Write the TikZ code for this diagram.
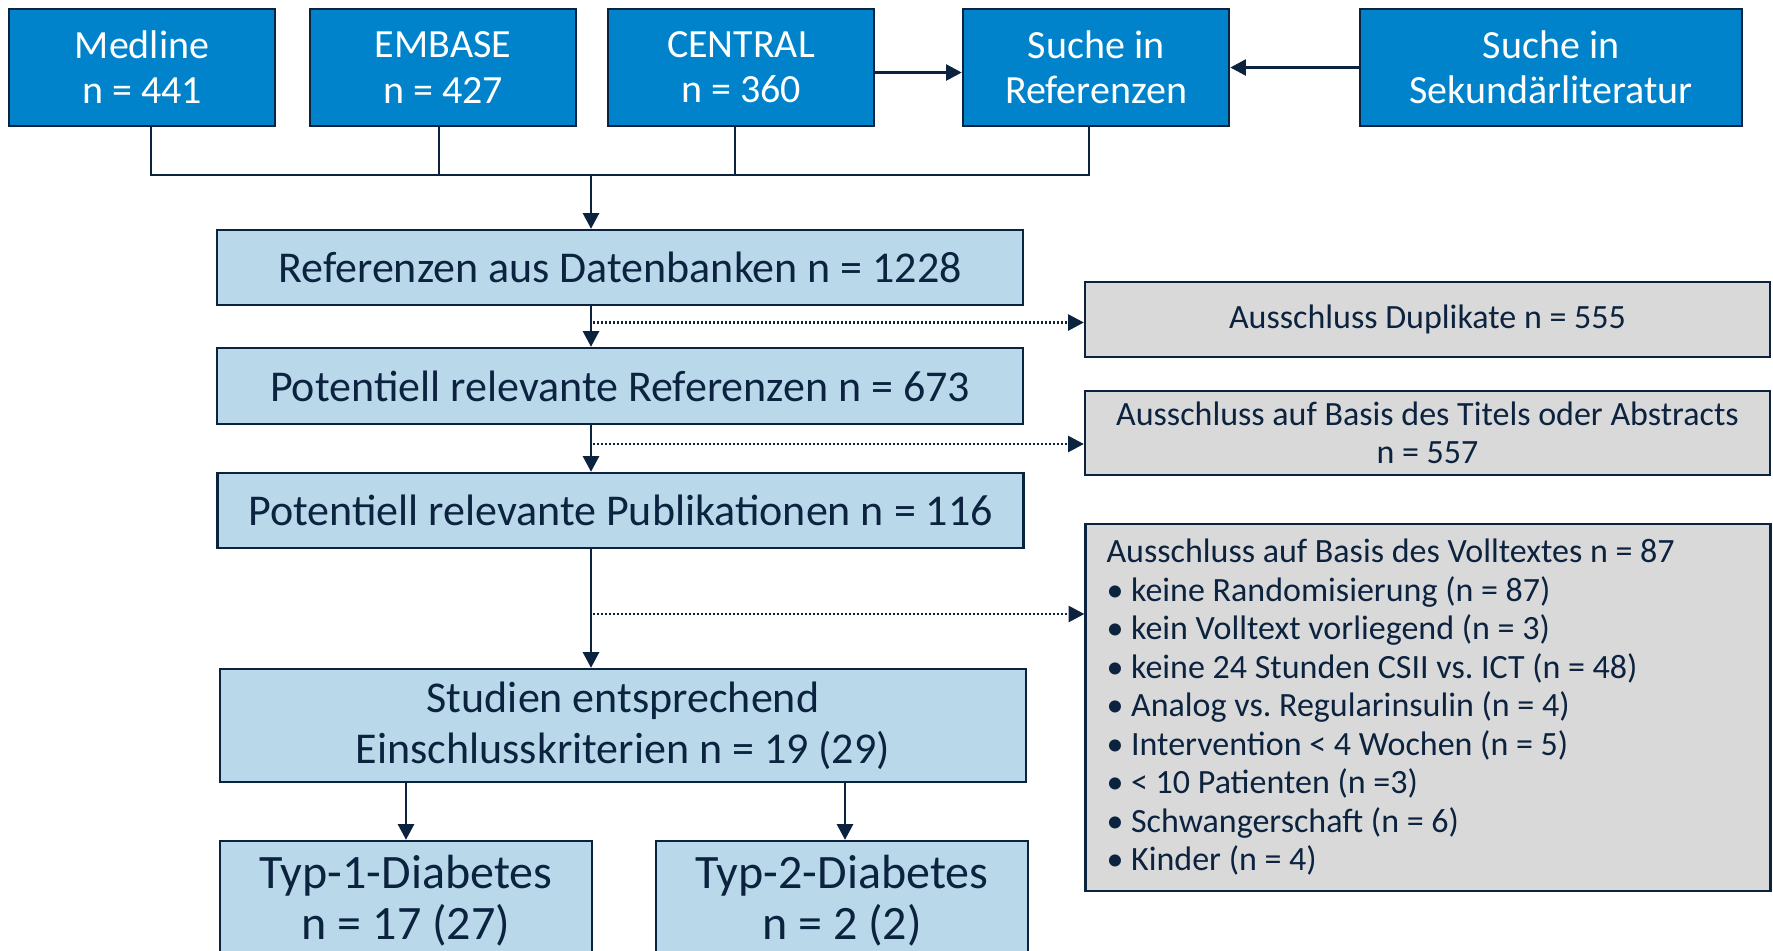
\documentclass[tikz,border=0pt]{standalone}
\usepackage{fontspec}
\setmainfont{Carlito}
\usetikzlibrary{arrows.meta,positioning}

\begin{document}
\begin{tikzpicture}[
    x=0.5pt, y=-0.5pt, % one unit = one pixel of the layout
    >={Triangle[length=7.8pt,width=8pt]},
    src box/.style={draw=navy, line width=1.3pt, fill=srcblue, text=white,
        font=\fontsize{20}{22.6}\selectfont, align=center,
        minimum width=133pt, minimum height=58.5pt, inner sep=0pt},
    flow box/.style={draw=navy, line width=1.2pt, fill=flowblue, text=navy,
        font=\fontsize{22}{25.4}\selectfont, align=center,
        minimum width=403pt, minimum height=37.5pt, inner sep=0pt},
    excl box/.style={draw=navy, line width=1.2pt, fill=exclgrey, text=navy,
        font=\fontsize{17}{19.25}\selectfont,
        minimum width=342.5pt, inner sep=0pt},
    link/.style={navy, line width=1.2pt},
    excl link/.style={navy, line width=1.1pt, dash pattern=on 1pt off 1pt}
]

% --- 1. SETTINGS & COLORS ---
\definecolor{navy}{HTML}{0C2340}
\definecolor{srcblue}{HTML}{0083CA}
\definecolor{flowblue}{HTML}{B9D9EB}
\definecolor{exclgrey}{HTML}{D9D9D9}

\useasboundingbox (0,0) rectangle (1773,950);

% --- 2. SOURCES ---
\node[src box] (medline) at (142,67.5) {Medline\\n = 441};
\node[src box] (embase) at (443,67.5) {EMBASE\\n = 427};
\node[src box] (central) at (741,67.5) {CENTRAL\\n = 360};
\node[src box] (sucheref) at (1096,67.5) {Suche in\\Referenzen};
\node[src box, minimum width=191pt] (sekundaer) at (1551,67.5) {Suche in\\Sekundärliteratur};

% --- 3. MAIN FLOW ---
\node[flow box] (refdb) at (620,267.5) {Referenzen aus Datenbanken n = 1228};
\node[flow box, minimum height=38pt] (potref) at (620,386) {Potentiell relevante Referenzen n = 673};
\node[flow box] (potpub) at (620.5,510.5) {Potentiell relevante Publikationen n = 116};
\node[flow box, minimum height=56.5pt] (studien) at (623,725.5) {Studien entsprechend\\Einschlusskriterien n = 19 (29)};
\node[flow box, font=\fontsize{24}{25.4}\selectfont, minimum width=186pt, minimum height=60pt] (typ1) at (406,901) {Typ-1-Diabetes\\n = 17 (27)};
\node[flow box, font=\fontsize{24}{25.4}\selectfont, minimum width=186pt, minimum height=60pt] (typ2) at (842,901) {Typ-2-Diabetes\\n = 2 (2)};

% --- 4. EXCLUSIONS ---
\node[excl box, minimum height=37.5pt, align=center] (dup) at (1427.5,319.5) {Ausschluss Duplikate n = 555};
\node[excl box, minimum height=42pt, align=center] (titel) at (1427.5,433) {Ausschluss auf Basis des Titels oder Abstracts\\n = 557};
\node[excl box, minimum height=183.5pt, inner xsep=10.5pt, text width=321.5pt, align=flush left] (voll) at (1428,707.5) {%
    Ausschluss auf Basis des Volltextes n = 87\\
    • keine Randomisierung (n = 87)\\
    • kein Volltext vorliegend (n = 3)\\
    • keine 24 Stunden CSII vs.\ ICT (n = 48)\\
    • Analog vs.\ Regularinsulin (n = 4)\\
    • Intervention \textless{} 4 Wochen (n = 5)\\
    • \textless{} 10 Patienten (n =3)\\
    • Schwangerschaft (n = 6)\\
    • Kinder (n = 4)};

% --- 5. CONNECTORS ---
\coordinate (join) at (591,175);
\draw[link] ([xshift=4.5pt]medline.south) |- ([xshift=-3.5pt]sucheref.south |- join) -- ([xshift=-3.5pt]sucheref.south);
\draw[link] ([xshift=-2pt]embase.south) -- ([xshift=-2pt]embase.south |- join);
\draw[link] ([xshift=-3pt]central.south) -- ([xshift=-3pt]central.south |- join);
\draw[link,->] (join) -- (join |- refdb.north);
\draw[link,->] ([yshift=-2.5pt]central.east) -- ([yshift=-2.5pt]central.east -| sucheref.west);
\draw[link,->] (sekundaer.west) -- (sekundaer.west -| sucheref.east);

\draw[link,->] (refdb.south -| join) -- (potref.north -| join);
\draw[link,->] (potref.south -| join) -- (potpub.north -| join);
\draw[link,->] (potpub.south -| join) -- (studien.north -| join);
\draw[link,->] (typ1.north |- studien.south) -- (typ1.north);
\draw[link,->] ([xshift=1.5pt]typ2.north |- studien.south) -- ([xshift=1.5pt]typ2.north);

% dotted side exits
\coordinate (cut1) at ([yshift=-1.5pt]dup.west);
\coordinate (cut2) at ([yshift=-5.5pt]titel.west);
\coordinate (cut3) at ([yshift=46.75pt]voll.west);
\draw[excl link,->] ([xshift=1pt]cut1 -| join) -- (cut1);
\draw[excl link,->] ([xshift=1pt]cut2 -| join) -- (cut2);
\draw[excl link,->] ([xshift=1pt]cut3 -| join) -- (cut3);

\end{tikzpicture}
\end{document}
